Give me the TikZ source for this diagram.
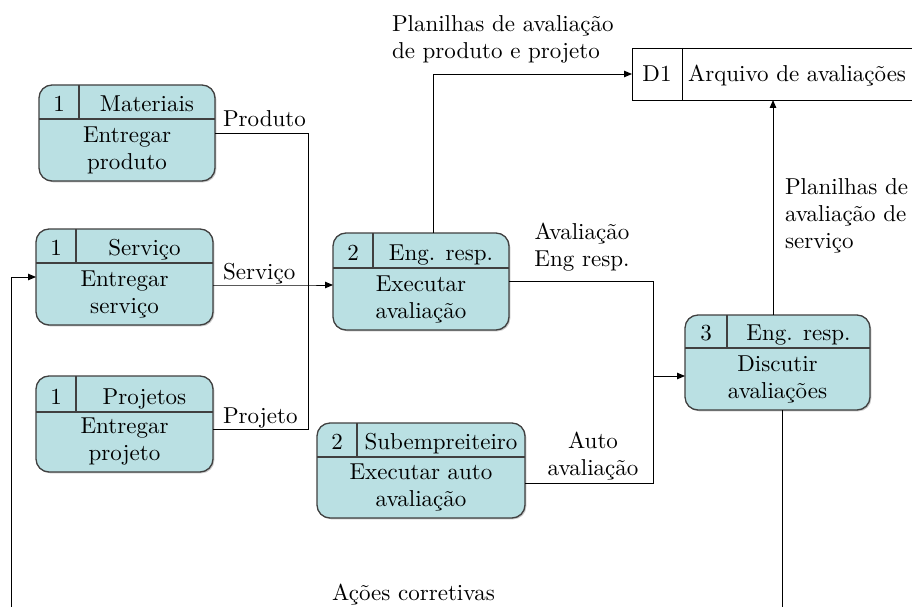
\documentclass[tikz,border=0pt]{standalone}
\usepackage{fontspec}
\setmainfont{lmroman10-regular.otf}
\usetikzlibrary{arrows.meta,shadows,calc}
\definecolor{procfill}{RGB}{186,224,227}
\definecolor{procline}{RGB}{64,64,64}
\newcommand\procbox[9]{%
  \node[proc, anchor=north west, minimum width=#4pt, minimum height=#5pt] (#1) at (#2,#3) {};
  \draw[sep] ($(#1.north west)+(0,#6)$) -- ($(#1.north east)+(0,#6)$);
  \draw[sep] ($(#1.north west)+(#7,0)$) -- ($(#1.north west)+(#7,#6)$);
  \node[txt, anchor=base] (#1-n) at ($(#1.north west)+(#7/2,#6-8)$) {#8};
  \node[txt, anchor=base] (#1-r) at ($(#1.north)+(#7/2,#6-8)$) {#9};
}
\begin{document}
\begin{tikzpicture}[x=1pt,y=-1pt,
  txt/.style={font=\fontsize{23}{27}\selectfont, inner sep=0pt, outer sep=0pt, align=center},
  lbl/.style={txt},
  proc/.style={draw=procline, line width=1.3pt, fill=procfill, rounded corners=13pt,
    inner sep=0pt, outer sep=0pt,
    drop shadow={shadow xshift=1.3pt, shadow yshift=-1.3pt, fill=black!45}},
  sep/.style={draw=procline, line width=1.1pt},
  flow/.style={line width=0.9pt, draw=black},
  arr/.style={flow, -{Triangle[length=8pt,width=6.5pt]}},
  store/.style={line width=0.9pt, draw=black}]
\useasboundingbox (0,0) rectangle (912,607);
\clip (0,0) rectangle (912,607);
\fill[white] (0,0) rectangle (912,607);

% processes
\procbox{nm}{39}{85}{176}{96}{34}{40}{1}{Materiais}
\node[txt] (nm-b) at (127,150) {Entregar\\produto};
\procbox{ns}{36}{229}{177}{96}{34}{40}{1}{Serviço}
\node[txt] (ns-b) at (124.5,294) {Entregar\\serviço};
\procbox{np}{36}{376}{177}{96}{36}{40}{1}{Projetos}
\node[txt] (np-b) at (124.5,442) {Entregar\\projeto};
\procbox{ne}{333}{233}{176}{97}{35}{40}{2}{Eng. resp.}
\node[txt] (ne-b) at (421,299) {Executar\\avaliação};
\procbox{nsub}{317}{423}{208}{95}{34}{40}{2}{Subempreiteiro}
\node[txt] (nsub-b) at (421,487.5) {Executar auto\\avaliação};
\procbox{nd}{685}{315}{185}{95}{33}{42}{3}{Eng. resp.}
\node[txt] (nd-b) at (777.5,379) {Discutir\\avaliações};

% data store
\node[anchor=north west, minimum width=280pt, minimum height=52pt, inner sep=0pt, outer sep=0pt] (d1) at (632,48) {};
\draw[store] (d1.north east) -- (d1.north west) -- (d1.south west) -- (d1.south east);
\draw[store] ($(d1.north west)+(50,0)$) -- ($(d1.south west)+(50,0)$);
\node[txt, anchor=base] (d1-n) at ($(d1.west)+(25,8)$) {D1};
\node[txt, anchor=base west] (d1-t) at ($(d1.west)+(56,8)$) {Arquivo de avaliações};

% connectors
\coordinate (j1) at (308,285);
\draw[flow] (nm.east) -| (j1);
\draw[flow] ([yshift=-5pt]np.east) -| (j1);
\draw[arr] ([yshift=-8pt]ns.east) -- (j1) -- (ne.west |- j1);

\coordinate (up2) at ($(ne.north)+(12,0)$);
\draw[arr] (up2) |- (d1.west);

\coordinate (j2) at (653,376);
\draw[flow] (ne.east) -| (j2);
\draw[flow] ([yshift=-12.5pt]nsub.east) -| (j2);
\draw[arr] (j2) -- (nd.west |- j2);

\coordinate (up3) at ($(nd.north)+(-4.5,0)$);
\draw[arr] (up3) -- (up3 |- d1.south);

\coordinate (dn3) at ($(nd.south)+(4.5,0)$);
\coordinate (lb) at (11,625);
\draw[arr] (dn3) |- (lb) |- (ns.west);

% labels
\node[lbl, anchor=base west] (lp) at (223,127) {Produto};
\node[lbl, anchor=base west] (ls) at (223,279) {Serviço};
\node[lbl, anchor=base west] (lj) at (223,423) {Projeto};
\node[lbl, anchor=north] (la) at (582,223) {Avaliação\\Eng resp.};
\node[lbl, anchor=north] (lauto) at (593,432) {Auto\\avaliação};
\node[lbl, anchor=north west, align=left] (lpl) at (392,16) {Planilhas de avaliação\\de produto e projeto};
\node[lbl, anchor=north west, align=left] (lps) at (785,179) {Planilhas de\\avaliação de\\serviço};
\node[lbl, anchor=base] (lac) at (413.5,600) {Ações corretivas};
\end{tikzpicture}
\end{document}
